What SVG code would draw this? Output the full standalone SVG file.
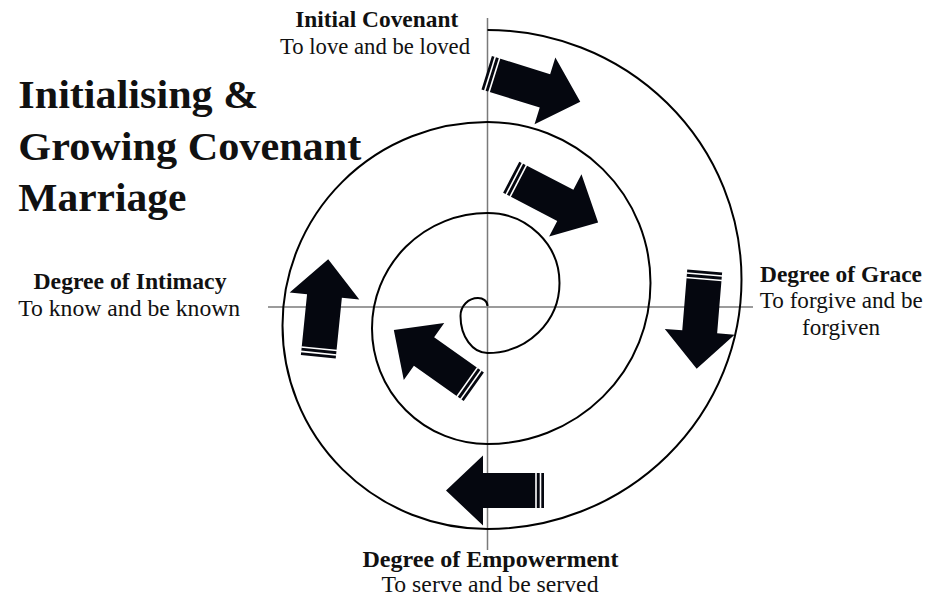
<svg xmlns="http://www.w3.org/2000/svg" xmlns:xlink="http://www.w3.org/1999/xlink" width="950" height="598" viewBox="0 0 950 598">
<style>
.t{font-family:"Liberation Serif","Times New Roman",serif;fill:#111;}
.b{font-weight:bold;font-size:23px;}
.r{font-size:22.5px;}
.title{font-family:"Liberation Serif","Times New Roman",serif;font-weight:bold;font-size:41px;fill:#111;}
.axis{stroke:#7a7a7a;stroke-width:1.5;fill:none;}
.spiral{stroke:#000;stroke-width:2;fill:none;}
.stripe{stroke:#fff;stroke-width:1.6;}
</style>
<defs>
<g id="arr">
<path d="M0,-17.5 H61 V-35 L98,0 L61,35 V17.5 H0 Z" fill="#05070f"/>
<line class="stripe" x1="3.5" y1="-18" x2="3.5" y2="18"/>
<line class="stripe" x1="8" y1="-18" x2="8" y2="18"/>
</g>
</defs>
<rect width="950" height="598" fill="#fff"/>
<g id="axes">
<line class="axis" x1="487.5" y1="18" x2="487.5" y2="550"/>
<line class="axis" x1="268" y1="307" x2="753" y2="307"/>
</g>
<g id="connectors">
<path id="spiral" class="spiral" d="M487.5,30 A254,249.5 0 0 1 487.5,529 A205,203.5 0 0 1 487.5,122 A163,161 0 0 1 487.5,444 A115.5,115.5 0 0 1 487.5,213 A72,70 0 0 1 487.5,353 C472.4,353 460.5,336.4 460.5,316 C460.5,306 468.3,298 478,298 C483,298 487.5,301 487.5,306"/>
<g id="arrows">
<use xlink:href="#arr" transform="translate(486.7,72.7) rotate(17.3)"/>
<use xlink:href="#arr" transform="translate(511.2,177.2) rotate(27.5)"/>
<use xlink:href="#arr" transform="translate(704.7,271) rotate(94.7)"/>
<use xlink:href="#arr" transform="translate(544,490.5) rotate(180)"/>
<use xlink:href="#arr" transform="translate(318.3,356.7) rotate(-84.2)"/>
<use xlink:href="#arr" transform="translate(473.8,386.7) rotate(215.3)"/>
</g>
</g>
<g id="title">
<text class="title" x="18.3" y="108.3" textLength="240" lengthAdjust="spacingAndGlyphs">Initialising &amp;</text>
<text class="title" x="18.3" y="160" textLength="343" lengthAdjust="spacingAndGlyphs">Growing Covenant</text>
<text class="title" x="18.3" y="211" textLength="168" lengthAdjust="spacingAndGlyphs">Marriage</text>
</g>
<g id="node-initial">
<text class="t b" x="376.7" y="27.3" text-anchor="middle" textLength="163" lengthAdjust="spacingAndGlyphs">Initial Covenant</text>
<text class="t r" x="375" y="54" text-anchor="middle" textLength="190" lengthAdjust="spacingAndGlyphs">To love and be loved</text>
</g>
<g id="node-intimacy">
<text class="t b" x="130" y="289.3" text-anchor="middle" textLength="193" lengthAdjust="spacingAndGlyphs">Degree of Intimacy</text>
<text class="t r" x="129.2" y="316" text-anchor="middle" textLength="222" lengthAdjust="spacingAndGlyphs">To know and be known</text>
</g>
<g id="node-grace">
<text class="t b" x="841" y="281.7" text-anchor="middle" textLength="162" lengthAdjust="spacingAndGlyphs">Degree of Grace</text>
<text class="t r" x="841.3" y="308.3" text-anchor="middle" textLength="163" lengthAdjust="spacingAndGlyphs">To forgive and be</text>
<text class="t r" x="841" y="335" text-anchor="middle" textLength="78" lengthAdjust="spacingAndGlyphs">forgiven</text>
</g>
<g id="node-empowerment">
<text class="t b" x="490.5" y="567" text-anchor="middle" textLength="256" lengthAdjust="spacingAndGlyphs">Degree of Empowerment</text>
<text class="t r" x="490" y="592" text-anchor="middle" textLength="217" lengthAdjust="spacingAndGlyphs">To serve and be served</text>
</g>
</svg>
